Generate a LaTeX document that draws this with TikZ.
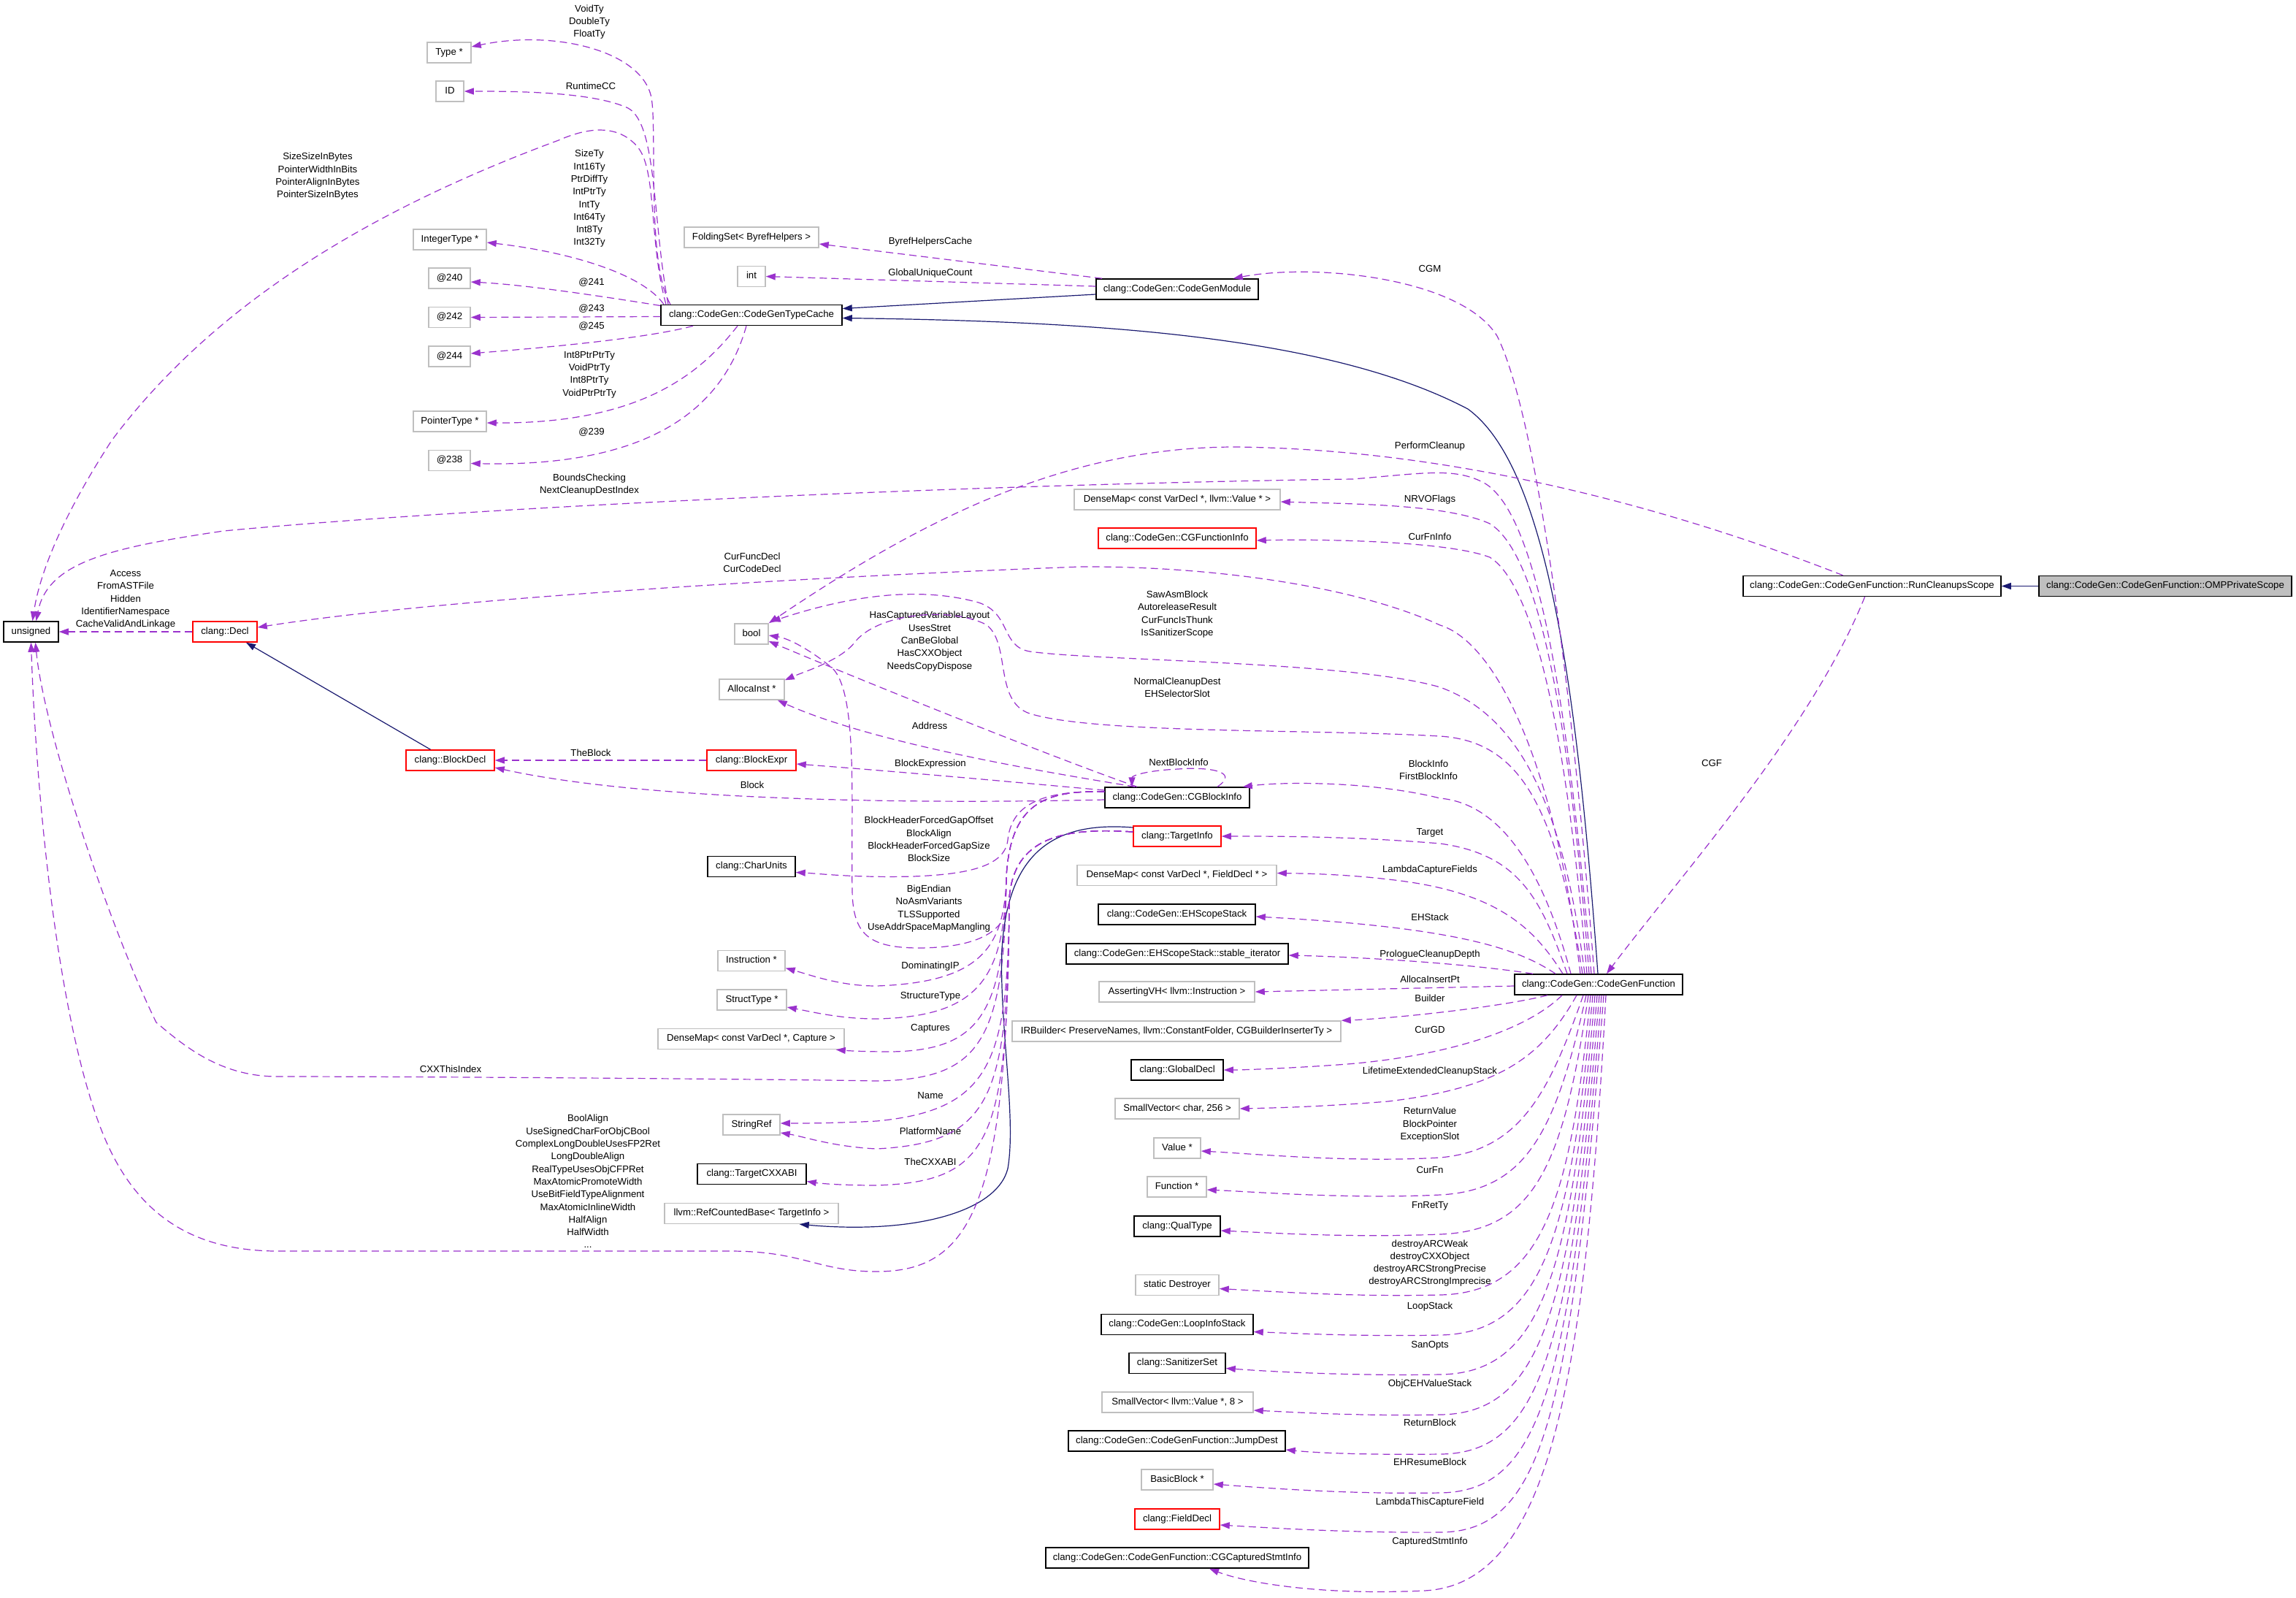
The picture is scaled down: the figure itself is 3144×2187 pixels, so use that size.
\documentclass[tikz,border=0pt]{standalone}
\usepackage{fontspec}
\setmainfont{Liberation Sans}
\usetikzlibrary{arrows.meta}
\definecolor{dxorchid}{HTML}{9A32CD}
\definecolor{dxnavy}{HTML}{191970}
\definecolor{dxgrey}{HTML}{BFBFBF}
\newcommand\dxfont{\fontsize{13.2}{17.3}\selectfont}
\begin{document}
\begin{tikzpicture}[x=1pt,y=-1pt,
  box/.style={draw, line width=1.5pt, minimum height=28pt, inner xsep=3pt, inner ysep=0pt, font=\dxfont, text height=9.5pt, text depth=2.8pt},
  cls/.style={box, draw=black},
  ext/.style={box, draw=dxgrey},
  inc/.style={box, draw=red},
  mainbox/.style={box, draw=black, fill=dxgrey},
  lab/.style={font=\dxfont, align=center, inner sep=0pt},
  mem/.style={draw=dxorchid, line width=1.2pt, dash pattern=on 10pt off 6pt, -{Triangle[length=13pt,width=9pt]}},
  inh/.style={draw=dxnavy, line width=1.2pt, -{Triangle[length=13pt,width=9pt]}}]
\useasboundingbox (0,0) rectangle (3144,2187);
\fill[white] (0,0) rectangle (3144,2187);

% ---------- nodes ----------
\node[ext, minimum width=60pt] (Type) at (615,72) {Type *};
\node[ext, minimum width=38pt] (ID) at (616,125) {ID};
\node[ext, minimum width=100pt] (IntegerType) at (616,328) {IntegerType *};
\node[ext, minimum width=57pt] (n240) at (615.5,381) {@240};
\node[ext, minimum width=57pt] (n242) at (615.5,434.5) {@242};
\node[ext, minimum width=57pt] (n244) at (615.5,488) {@244};
\node[ext, minimum width=100pt] (PointerType) at (616,577) {PointerType *};
\node[ext, minimum width=57pt] (n238) at (615.5,630.5) {@238};
\node[cls, minimum width=248pt] (CGTC) at (1029,431.5) {clang::CodeGen::CodeGenTypeCache};
\node[ext, minimum width=184pt] (FoldingSet) at (1029,325) {FoldingSet< ByrefHelpers >};
\node[ext, minimum width=38pt] (int) at (1029,378.5) {int};
\node[cls, minimum width=222pt] (CGM) at (1612,396) {clang::CodeGen::CodeGenModule};
\node[ext, minimum width=282pt] (DMValue) at (1612,684) {DenseMap< const VarDecl *, llvm::Value * >};
\node[inc, minimum width=216pt] (CGFI) at (1612,737) {clang::CodeGen::CGFunctionInfo};
\node[cls, minimum width=75pt] (unsigned) at (42.5,865) {unsigned};
\node[inc, minimum width=88pt] (Decl) at (308,865) {clang::Decl};
\node[ext, minimum width=46pt] (bool) at (1029,868) {bool};
\node[ext, minimum width=89pt] (AllocaInst) at (1029.5,944) {AllocaInst *};
\node[inc, minimum width=121pt] (BlockDecl) at (616.5,1041) {clang::BlockDecl};
\node[inc, minimum width=122pt] (BlockExpr) at (1029,1041) {clang::BlockExpr};
\node[cls, minimum width=198pt] (CGBI) at (1612,1092) {clang::CodeGen::CGBlockInfo};
\node[inc, minimum width=120pt] (TI) at (1612,1145) {clang::TargetInfo};
\node[cls, minimum width=120pt] (CharUnits) at (1029,1186.5) {clang::CharUnits};
\node[ext, minimum width=273pt] (DMField) at (1611.5,1198.5) {DenseMap< const VarDecl *, FieldDecl * >};
\node[cls, minimum width=215pt] (EHSS) at (1611.5,1252) {clang::CodeGen::EHScopeStack};
\node[cls, minimum width=304pt] (SI) at (1612,1306) {clang::CodeGen::EHScopeStack::stable\_iterator};
\node[ext, minimum width=92pt] (Instruction) at (1029,1315.5) {Instruction *};
\node[ext, minimum width=213pt] (AVH) at (1611.5,1358) {AssertingVH< llvm::Instruction >};
\node[cls, minimum width=230pt] (CGF) at (2189,1348) {clang::CodeGen::CodeGenFunction};
\node[ext, minimum width=95pt] (StructType) at (1029.5,1369) {StructType *};
\node[ext, minimum width=450pt] (IRB) at (1611,1412) {IRBuilder< PreserveNames, llvm::ConstantFolder, CGBuilderInserterTy >};
\node[ext, minimum width=255pt] (DMCapture) at (1028.5,1422.5) {DenseMap< const VarDecl *, Capture >};
\node[cls, minimum width=126pt] (GD) at (1612,1465) {clang::GlobalDecl};
\node[ext, minimum width=170pt] (SV256) at (1612,1518) {SmallVector< char, 256 >};
\node[ext, minimum width=78pt] (StringRef) at (1029,1540) {StringRef};
\node[ext, minimum width=64pt] (Value) at (1612,1572) {Value *};
\node[cls, minimum width=149pt] (TCXXABI) at (1029.5,1607.5) {clang::TargetCXXABI};
\node[ext, minimum width=81pt] (Function) at (1611.5,1625) {Function *};
\node[ext, minimum width=238pt] (RCB) at (1029,1661.5) {llvm::RefCountedBase< TargetInfo >};
\node[cls, minimum width=118pt] (QT) at (1612,1679) {clang::QualType};
\node[ext, minimum width=114pt] (SD) at (1612,1759.5) {static Destroyer};
\node[cls, minimum width=208pt] (LIS) at (1612,1813.5) {clang::CodeGen::LoopInfoStack};
\node[cls, minimum width=132pt] (SS) at (1612,1866.5) {clang::SanitizerSet};
\node[ext, minimum width=207pt] (SV8) at (1612.5,1920) {SmallVector< llvm::Value *, 8 >};
\node[cls, minimum width=297pt] (JD) at (1611.5,1973) {clang::CodeGen::CodeGenFunction::JumpDest};
\node[ext, minimum width=98pt] (BB) at (1612,2026) {BasicBlock *};
\node[inc, minimum width=116pt] (FD) at (1612,2080) {clang::FieldDecl};
\node[cls, minimum width=360pt] (CSI) at (1612,2133) {clang::CodeGen::CodeGenFunction::CGCapturedStmtInfo};
\node[cls, minimum width=353pt] (RCS) at (2563.5,802.5) {clang::CodeGen::CodeGenFunction::RunCleanupsScope};
\node[mainbox, minimum width=346pt] (OMP) at (2965,802.5) {clang::CodeGen::CodeGenFunction::OMPPrivateScope};

% ---------- labels ----------
\node[lab] (l1) at (807,30) {VoidTy\\DoubleTy\\FloatTy};
\node[lab] (l2) at (809,118) {RuntimeCC};
\node[lab] (l3) at (435,241.5) {SizeSizeInBytes\\PointerWidthInBits\\PointerAlignInBytes\\PointerSizeInBytes};
\node[lab] (l4) at (807,272) {SizeTy\\Int16Ty\\PtrDiffTy\\IntPtrTy\\IntTy\\Int64Ty\\Int8Ty\\Int32Ty};
\node[lab] (l5) at (810,387) {@241};
\node[lab] (l6) at (810,423) {@243};
\node[lab] (l7) at (810,447) {@245};
\node[lab] (l8) at (807,513) {Int8PtrPtrTy\\VoidPtrTy\\Int8PtrTy\\VoidPtrPtrTy};
\node[lab] (l9) at (810,591.5) {@239};
\node[lab] (l10) at (807,663.5) {BoundsChecking\\NextCleanupDestIndex};
\node[lab] (l11) at (1274,331) {ByrefHelpersCache};
\node[lab] (l12) at (1274,374) {GlobalUniqueCount};
\node[lab] (l13) at (1958,368) {CGM};
\node[lab] (l14) at (1958,611) {PerformCleanup};
\node[lab] (l15) at (1958,684) {NRVOFlags};
\node[lab] (l16) at (1958,735) {CurFnInfo};
\node[lab] (l17) at (1030,770) {CurFuncDecl\\CurCodeDecl};
\node[lab] (l18) at (172,821) {Access\\FromASTFile\\Hidden\\IdentifierNamespace\\CacheValidAndLinkage};
\node[lab] (l19) at (1612,841) {SawAsmBlock\\AutoreleaseResult\\CurFuncIsThunk\\IsSanitizerScope};
\node[lab] (l20) at (1273,878) {HasCapturedVariableLayout\\UsesStret\\CanBeGlobal\\HasCXXObject\\NeedsCopyDispose};
\node[lab] (l21) at (1612,941.5) {NormalCleanupDest\\EHSelectorSlot};
\node[lab] (l22) at (1273,994) {Address};
\node[lab] (l23) at (809,1031) {TheBlock};
\node[lab] (l24) at (1614,1044) {NextBlockInfo};
\node[lab] (l25) at (1274,1046) {BlockExpression};
\node[lab] (l26) at (1956,1054.5) {BlockInfo\\FirstBlockInfo};
\node[lab] (l27) at (1030,1075) {Block};
\node[lab] (l28) at (1272,1149) {BlockHeaderForcedGapOffset\\BlockAlign\\BlockHeaderForcedGapSize\\BlockSize};
\node[lab] (l29) at (1958,1140) {Target};
\node[lab] (l30) at (1958,1191.5) {LambdaCaptureFields};
\node[lab] (l31) at (1272,1244) {BigEndian\\NoAsmVariants\\TLSSupported\\UseAddrSpaceMapMangling};
\node[lab] (l32) at (1958,1256) {EHStack};
\node[lab] (l33) at (1958,1307) {PrologueCleanupDepth};
\node[lab] (l34) at (1274,1323) {DominatingIP};
\node[lab] (l35) at (1958,1341) {AllocaInsertPt};
\node[lab] (l36) at (1274,1364) {StructureType};
\node[lab] (l37) at (1958,1367) {Builder};
\node[lab] (l38) at (1274,1408.5) {Captures};
\node[lab] (l39) at (1958,1410) {CurGD};
\node[lab] (l40) at (617,1464) {CXXThisIndex};
\node[lab] (l41) at (1958,1467) {LifetimeExtendedCleanupStack};
\node[lab] (l42) at (1274,1500) {Name};
\node[lab] (l43) at (1958,1539.6) {ReturnValue\\BlockPointer\\ExceptionSlot};
\node[lab] (l44) at (1274,1548.6) {PlatformName};
\node[lab] (l45) at (1274,1591) {TheCXXABI};
\node[lab] (l46) at (805,1617.6) {BoolAlign\\UseSignedCharForObjCBool\\ComplexLongDoubleUsesFP2Ret\\LongDoubleAlign\\RealTypeUsesObjCFPRet\\MaxAtomicPromoteWidth\\UseBitFieldTypeAlignment\\MaxAtomicInlineWidth\\HalfAlign\\HalfWidth\\...};
\node[lab] (l47) at (1958,1602) {CurFn};
\node[lab] (l48) at (1958,1651.5) {FnRetTy};
\node[lab] (l49) at (1958,1729.6) {destroyARCWeak\\destroyCXXObject\\destroyARCStrongPrecise\\destroyARCStrongImprecise};
\node[lab] (l50) at (1958,1788.6) {LoopStack};
\node[lab] (l51) at (1958,1842) {SanOpts};
\node[lab] (l52) at (1958,1895.5) {ObjCEHValueStack};
\node[lab] (l53) at (1958,1948) {ReturnBlock};
\node[lab] (l54) at (1958,2002) {EHResumeBlock};
\node[lab] (l55) at (1958,2056.6) {LambdaThisCaptureField};
\node[lab] (l56) at (1958,2111) {CapturedStmtInfo};
\node[lab] (l57) at (2344,1045) {CGF};

% ---------- CodeGenTypeCache members ----------
\draw[mem] ([shift={(-111,0)}]CGTC.north) .. controls (885,360) and (900,180) .. (892,134) .. controls (880,70) and (760,40) .. ([shift={(0,-8)}]Type.east);
\draw[mem] ([shift={(-114,0)}]CGTC.north) .. controls (893,300) and (900,170) .. (860,148) .. controls (810,125) and (700,125) .. (ID.east);
\draw[mem] ([shift={(-117,0)}]CGTC.north) .. controls (888,330) and (900,230) .. (872,200) .. controls (850,175) and (815,170) .. (765,192) .. controls (500,290) and (290,420) .. (153,603) .. controls (90,700) and (55,780) .. ([shift={(2,0)}]unsigned.north);
\draw[mem] ([shift={(-120,0)}]CGTC.north) .. controls (880,375) and (780,345) .. ([shift={(0,4)}]IntegerType.east);
\draw[mem] ([shift={(0,-13)}]CGTC.west) .. controls (820,405) and (720,390) .. ([shift={(0,5)}]n240.east);
\draw[mem] ([shift={(0,2)}]CGTC.west) -- (n242.east);
\draw[mem] ([shift={(-80,0)}]CGTC.south) .. controls (880,465) and (720,478) .. ([shift={(0,-4)}]n244.east);
\draw[mem] ([shift={(-19,0)}]CGTC.south) .. controls (960,510) and (880,580) .. ([shift={(0,2)}]PointerType.east);
\draw[mem] ([shift={(-7,0)}]CGTC.south) .. controls (990,560) and (890,640) .. ([shift={(0,4)}]n238.east);

% ---------- CodeGenModule ----------
\draw[mem] ([shift={(-103,0)}]CGM.north) -- ([shift={(0,9)}]FoldingSet.east);
\draw[mem] ([shift={(0,-4)}]CGM.west) -- (int.east);
\draw[inh] ([shift={(0,7)}]CGM.west) -- ([shift={(0,-9)}]CGTC.east);

% ---------- CodeGenFunction ----------
\draw[inh] ([shift={(-1,0)}]CGF.north) .. controls (2160,950) and (2120,640) .. (2010,560) .. controls (1820,460) and (1500,440) .. ([shift={(0,4)}]CGTC.east);
\draw[mem] ([shift={(-6,0)}]CGF.north) .. controls (2150,900) and (2100,560) .. (2050,460) .. controls (2000,380) and (1800,360) .. ([shift={(-35,0)}]CGM.north east);
\draw[mem] ([shift={(-10,0)}]CGF.north) .. controls (2150,1000) and (2110,700) .. (2030,660) .. controls (1990,640) and (1950,648) .. (1852,656) .. controls (1400,662) and (700,690) .. (306,727) .. controls (150,750) and (65,770) .. ([shift={(7,0)}]unsigned.north);
\draw[mem] ([shift={(-13,0)}]CGF.north) .. controls (2150,1000) and (2110,760) .. (2040,717) .. controls (1980,690) and (1850,690) .. ([shift={(0,3)}]DMValue.east);
\draw[mem] ([shift={(-16,0)}]CGF.north) .. controls (2145,1000) and (2100,800) .. (2040,763) .. controls (1980,740) and (1800,738) .. ([shift={(0,3)}]CGFI.east);
\draw[mem] ([shift={(-19,0)}]CGF.north) .. controls (2140,1100) and (2080,980) .. (1972,941) .. controls (1850,905) and (1500,905) .. (1410,892) .. controls (1370,885) and (1385,840) .. (1340,825) .. controls (1250,800) and (1150,820) .. ([shift={(3,-2)}]bool.north east);
\draw[mem] ([shift={(-22,0)}]CGF.north) .. controls (2130,1100) and (2080,1015) .. (1972,1008) .. controls (1800,998) and (1500,1005) .. (1410,977) .. controls (1360,960) and (1385,880) .. (1350,855) .. controls (1300,830) and (1200,840) .. (1170,880) .. controls (1150,905) and (1100,920) .. ([shift={(0,2)}]AllocaInst.north east);
\draw[mem] ([shift={(-25,0)}]CGF.north) .. controls (2130,1050) and (2050,880) .. (1972,856) .. controls (1850,800) and (1650,775) .. (1480,776) .. controls (1100,790) and (600,820) .. ([shift={(0,-6)}]Decl.east);
\draw[mem] ([shift={(-38,0)}]CGF.north) .. controls (2110,1180) and (2050,1100) .. (1972,1093) .. controls (1880,1070) and (1760,1070) .. ([shift={(-10,0)}]CGBI.north east);
\draw[mem] ([shift={(-43,0)}]CGF.north) .. controls (2110,1230) and (2080,1170) .. (1972,1155) .. controls (1850,1145) and (1750,1145) .. (TI.east);
\draw[mem] ([shift={(-49,0)}]CGF.north) .. controls (2100,1270) and (2050,1220) .. (1901,1204) .. controls (1850,1198) and (1800,1196) .. ([shift={(0,-3)}]DMField.east);
\draw[mem] ([shift={(-59,0)}]CGF.north) .. controls (2080,1300) and (2000,1270) .. ([shift={(0,3)}]EHSS.east);
\draw[mem] ([shift={(-90,0)}]CGF.north) .. controls (2000,1318) and (1850,1310) .. ([shift={(0,2)}]SI.east);
\draw[mem] ([shift={(0,2)}]CGF.west) -- (AVH.east);
\draw[mem] ([shift={(-70,0)}]CGF.south) .. controls (2050,1380) and (1900,1395) .. (IRB.north east);
\draw[mem] ([shift={(-50,0)}]CGF.south) .. controls (2080,1420) and (1950,1450) .. (1831,1458) .. controls (1760,1463) and (1700,1465) .. (GD.east);
\draw[mem] ([shift={(-30,0)}]CGF.south) .. controls (2110,1450) and (2050,1490) .. (1901,1508) .. controls (1800,1516) and (1740,1517) .. (SV256.east);
\draw[mem] ([shift={(-21,0)}]CGF.south) .. controls (2120,1500) and (2080,1575) .. (1972,1585) .. controls (1850,1592) and (1720,1580) .. ([shift={(0,4)}]Value.east);
\draw[mem] ([shift={(-17,0)}]CGF.south) .. controls (2130,1550) and (2090,1630) .. (1972,1636) .. controls (1850,1642) and (1720,1632) .. ([shift={(0,4)}]Function.east);
\draw[mem] ([shift={(-14,0)}]CGF.south) .. controls (2140,1600) and (2100,1685) .. (1972,1690) .. controls (1850,1695) and (1740,1688) .. ([shift={(0,6)}]QT.east);
\draw[mem] ([shift={(-11,0)}]CGF.south) .. controls (2150,1650) and (2110,1770) .. (1972,1773) .. controls (1850,1776) and (1740,1768) .. ([shift={(0,5)}]SD.east);
\draw[mem] ([shift={(-8,0)}]CGF.south) .. controls (2150,1700) and (2110,1825) .. (1972,1828) .. controls (1870,1830) and (1780,1826) .. ([shift={(0,10)}]LIS.east);
\draw[mem] ([shift={(-5,0)}]CGF.south) .. controls (2150,1750) and (2110,1880) .. (1972,1882) .. controls (1850,1884) and (1740,1878) .. ([shift={(0,7)}]SS.east);
\draw[mem] ([shift={(-2,0)}]CGF.south) .. controls (2150,1800) and (2110,1935) .. (1972,1937) .. controls (1860,1939) and (1780,1934) .. ([shift={(0,11)}]SV8.east);
\draw[mem] ([shift={(1,0)}]CGF.south) .. controls (2150,1850) and (2110,1990) .. (1972,1991) .. controls (1880,1992) and (1810,1990) .. ([shift={(0,12)}]JD.east);
\draw[mem] ([shift={(4,0)}]CGF.south) .. controls (2150,1900) and (2110,2042) .. (1972,2044) .. controls (1850,2046) and (1740,2038) .. ([shift={(0,6)}]BB.east);
\draw[mem] ([shift={(7,0)}]CGF.south) .. controls (2150,1950) and (2110,2097) .. (1972,2098) .. controls (1850,2099) and (1740,2092) .. ([shift={(0,8)}]FD.east);
\draw[mem] ([shift={(10,0)}]CGF.south) .. controls (2170,1900) and (2120,2170) .. (1950,2178) .. controls (1800,2185) and (1700,2165) .. ([shift={(44,0)}]CSI.south);

% ---------- RunCleanupsScope / OMPPrivateScope ----------
\draw[mem] ([shift={(-10,0)}]RCS.south) .. controls (2480,1000) and (2300,1200) .. ([shift={(11,0)}]CGF.north);
\draw[mem] ([shift={(-40,0)}]RCS.north) .. controls (2300,700) and (2000,615) .. (1691,612) .. controls (1450,612) and (1250,720) .. (bool.north east);
\draw[inh] (OMP.west) -- (RCS.east);

% ---------- CGBlockInfo ----------
\draw[mem] ([shift={(55,0)}]CGBI.north) .. controls (1700,1055) and (1650,1050) .. (1613,1053) .. controls (1570,1055) and (1550,1062) .. ([shift={(-62,0)}]CGBI.north);
\draw[mem] ([shift={(-55,0)}]CGBI.north) .. controls (1450,1040) and (1200,940) .. ([shift={(0,10)}]bool.east);
\draw[mem] ([shift={(-58,0)}]CGBI.north) .. controls (1450,1060) and (1200,1020) .. ([shift={(-10,0)}]AllocaInst.south east);
\draw[mem] ([shift={(0,-10)}]CGBI.west) .. controls (1400,1072) and (1250,1058) .. ([shift={(0,5)}]BlockExpr.east);
\draw[mem] ([shift={(0,3)}]CGBI.west) .. controls (1300,1100) and (900,1100) .. ([shift={(0,10)}]BlockDecl.east);
\draw[mem] ([shift={(0,-8)}]CGBI.west) .. controls (1430,1082) and (1385,1100) .. (1380,1150) .. controls (1376,1185) and (1330,1197) .. (1250,1200) .. controls (1170,1202) and (1120,1196) .. ([shift={(0,8)}]CharUnits.east);
\draw[mem] ([shift={(0,-8)}]CGBI.west) .. controls (1430,1082) and (1384,1100) .. (1378,1200) .. controls (1376,1300) and (1340,1345) .. (1200,1350) .. controls (1150,1350) and (1110,1335) .. ([shift={(0,10)}]Instruction.east);
\draw[mem] ([shift={(0,-8)}]CGBI.west) .. controls (1430,1082) and (1384,1100) .. (1378,1200) .. controls (1376,1340) and (1340,1392) .. (1200,1395) .. controls (1150,1395) and (1110,1385) .. ([shift={(0,10)}]StructType.east);
\draw[mem] ([shift={(0,-8)}]CGBI.west) .. controls (1430,1082) and (1384,1100) .. (1378,1200) .. controls (1376,1390) and (1340,1438) .. (1220,1440) .. controls (1190,1440) and (1165,1439) .. ([shift={(-12,0)}]DMCapture.south east);
\draw[mem] ([shift={(0,-8)}]CGBI.west) .. controls (1430,1082) and (1384,1100) .. (1378,1200) .. controls (1376,1430) and (1340,1478) .. (1200,1480) .. controls (1100,1478) and (600,1474) .. (380,1474) .. controls (300,1474) and (250,1430) .. (214,1400) .. controls (150,1270) and (60,1000) .. ([shift={(6,0)}]unsigned.south);

% ---------- Decl / BlockDecl / BlockExpr ----------
\draw[mem] (BlockExpr.west) -- (BlockDecl.east);
\draw[inh] ([shift={(-27,0)}]BlockDecl.north) -- ([shift={(29,0)}]Decl.south);
\draw[mem] (Decl.west) -- (unsigned.east);

% ---------- TargetInfo ----------
\draw[inh] ([shift={(0,-12)}]TI.west) .. controls (1450,1125) and (1380,1160) .. (1372,1300) .. controls (1368,1400) and (1392,1530) .. (1380,1600) .. controls (1365,1660) and (1250,1690) .. ([shift={(-54,0)}]RCB.south east);
\draw[mem] ([shift={(0,-6)}]TI.west) .. controls (1450,1132) and (1388,1150) .. (1382,1230) .. controls (1380,1275) and (1340,1297) .. (1260,1298) .. controls (1190,1298) and (1168,1280) .. (1167,1220) .. controls (1165,1100) and (1175,950) .. (1140,915) .. controls (1110,890) and (1080,874) .. ([shift={(0,2)}]bool.east);
\draw[mem] ([shift={(0,-6)}]TI.west) .. controls (1450,1132) and (1388,1150) .. (1382,1230) .. controls (1380,1450) and (1360,1520) .. (1200,1535) .. controls (1140,1538) and (1100,1538) .. ([shift={(0,-2)}]StringRef.east);
\draw[mem] ([shift={(0,-6)}]TI.west) .. controls (1450,1132) and (1388,1150) .. (1382,1230) .. controls (1380,1500) and (1360,1565) .. (1200,1573) .. controls (1140,1570) and (1100,1556) .. ([shift={(0,11)}]StringRef.east);
\draw[mem] ([shift={(0,-6)}]TI.west) .. controls (1450,1132) and (1388,1150) .. (1382,1230) .. controls (1380,1560) and (1360,1618) .. (1200,1623) .. controls (1150,1623) and (1120,1620) .. ([shift={(0,10)}]TCXXABI.east);
\draw[mem] ([shift={(0,-6)}]TI.west) .. controls (1450,1132) and (1388,1150) .. (1382,1230) .. controls (1380,1650) and (1330,1741) .. (1200,1741) .. controls (1120,1741) and (1100,1713) .. (1000,1713) -- (380,1713) .. controls (250,1713) and (180,1650) .. (140,1550) .. controls (80,1400) and (50,1100) .. (unsigned.south);
\end{tikzpicture}
\end{document}
